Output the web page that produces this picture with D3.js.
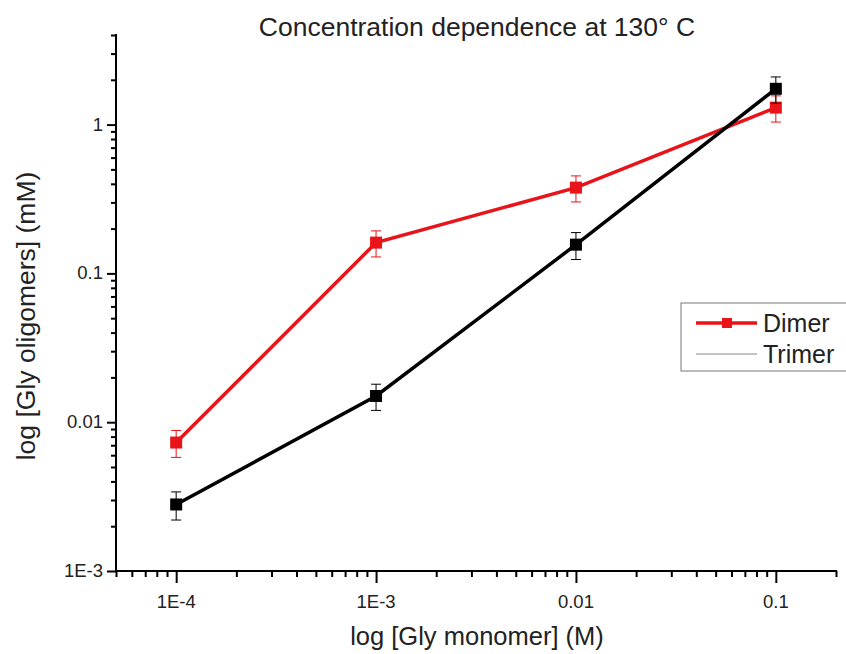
<!DOCTYPE html>
<html>
<head>
<meta charset="utf-8">
<script src="https://cdn.jsdelivr.net/npm/d3@7"></script>
<style>
  body { margin: 0; background: #fff; }
  text { font-family: "Liberation Sans", Arial, sans-serif; }
</style>
</head>
<body>
<svg id="chart" width="846" height="654"></svg>
<script>
// monomer concentration (M)
var monomer = [1e-4, 1e-3, 0.01, 0.1];
// oligomer concentrations (mM)
var dimer = [0.0073, 0.161, 0.377, 1.30];
var dimerErr = [0.0015, 0.032, 0.075, 0.26];
var trimer = [0.0028, 0.0150, 0.156, 1.74];
var trimerErr = [0.0006, 0.003, 0.032, 0.35];
var xTickLabels = ["1E-4", "1E-3", "0.01", "0.1"];
var yTickLabels = ["1E-3", "0.01", "0.1", "1"];

window.onload = function(){
    var svg = d3.select("#chart");

    var x = d3.scaleLog().domain([5e-5, 0.2]).range([116, 836]);
    var y = d3.scaleLog().domain([1e-3, 4]).range([571, 35]);

    // minor tick values for log axes
    function logTicks(lo, hi){
        var out = [];
        for (var e = -6; e <= 2; e++) {
            for (var m = 1; m <= 9; m++) {
                var v = m * Math.pow(10, e);
                if (v >= lo * 0.999 && v <= hi * 1.001) out.push(v);
            }
        }
        return out;
    }
    function isDecade(v){
        var l = Math.log10(v);
        return Math.abs(l - Math.round(l)) < 1e-6;
    }

    var xMajors = [1e-4, 1e-3, 0.01, 0.1];
    var yMajors = [1e-3, 0.01, 0.1, 1];

    // x axis
    var xAxis = svg.append("g").attr("transform", "translate(0,571)")
        .call(d3.axisBottom(x).tickValues(logTicks(5e-5, 0.2)).tickSizeOuter(0)
            .tickSize(6).tickFormat(""));
    xAxis.selectAll(".tick line")
        .attr("y2", function(d){ return isDecade(d) ? 12 : 6; })
        .attr("stroke-width", 2);
    xAxis.select(".domain").attr("stroke-width", 2).attr("d", "M115,0H837");
    svg.append("g").selectAll("text").data(xMajors).enter().append("text")
        .attr("x", function(d){ return x(d); })
        .attr("y", 608)
        .attr("text-anchor", "middle")
        .attr("font-size", 18.5)
        .attr("fill", "#222")
        .text(function(d, i){ return xTickLabels[i]; });

    // y axis
    var yAxis = svg.append("g").attr("transform", "translate(116,0)")
        .call(d3.axisLeft(y).tickValues(logTicks(1e-3, 4)).tickSizeOuter(0)
            .tickSize(5).tickFormat(""));
    yAxis.selectAll(".tick line")
        .attr("x2", function(d){ return isDecade(d) ? -9 : -5; })
        .attr("stroke-width", 2);
    yAxis.select(".domain").attr("stroke-width", 2).attr("d", "M0,34V572");
    svg.append("g").selectAll("text").data(yMajors).enter().append("text")
        .attr("x", 103)
        .attr("y", function(d){ return y(d) + 6; })
        .attr("text-anchor", "end")
        .attr("font-size", 18.5)
        .attr("fill", "#222")
        .text(function(d, i){ return yTickLabels[i]; });

    // title and axis labels
    svg.append("text").attr("x", 477).attr("y", 36).attr("text-anchor", "middle")
        .attr("font-size", 26.5).attr("fill", "#222")
        .text("Concentration dependence at 130° C");
    svg.append("text").attr("x", 477).attr("y", 645).attr("text-anchor", "middle")
        .attr("font-size", 25.5).attr("fill", "#222")
        .text("log [Gly monomer] (M)");
    svg.append("text").attr("transform", "translate(35,316) rotate(-90)")
        .attr("text-anchor", "middle")
        .attr("font-size", 26.5).attr("fill", "#222")
        .text("log [Gly oligomers] (mM)");

    var line = d3.line()
        .x(function(d){ return x(d[0]); })
        .y(function(d){ return y(d[1]); });

    function drawSeries(vals, errs, color){
        var pts = monomer.map(function(m, i){ return [m, vals[i], errs[i]]; });
        var g = svg.append("g");
        g.selectAll("g.err").data(pts).enter().append("path")
            .attr("d", function(d){
                var cx = x(d[0]), y0 = y(d[1] + d[2]), y1 = y(d[1] - d[2]);
                return "M" + (cx - 5) + "," + y0 + "H" + (cx + 5) +
                       "M" + cx + "," + y0 + "V" + y1 +
                       "M" + (cx - 5) + "," + y1 + "H" + (cx + 5);
            })
            .attr("stroke", color).attr("stroke-width", 1).attr("fill", "none");
        g.append("path").datum(pts)
            .attr("d", line)
            .attr("stroke", color).attr("stroke-width", 3.5).attr("fill", "none");
        g.selectAll("rect").data(pts).enter().append("rect")
            .attr("x", function(d){ return x(d[0]) - 6; })
            .attr("y", function(d){ return y(d[1]) - 6; })
            .attr("width", 12).attr("height", 12)
            .attr("fill", color);
    }

    drawSeries(dimer, dimerErr, "#e8141a");
    drawSeries(trimer, trimerErr, "#000");

    // legend
    var lg = svg.append("g");
    lg.append("rect").attr("x", 681).attr("y", 303).attr("width", 200).attr("height", 68)
        .attr("fill", "#fff").attr("stroke", "#777").attr("stroke-width", 1);
    lg.append("line").attr("x1", 696).attr("x2", 757).attr("y1", 323).attr("y2", 323)
        .attr("stroke", "#e8141a").attr("stroke-width", 3.5);
    lg.append("rect").attr("x", 722).attr("y", 318).attr("width", 10).attr("height", 10)
        .attr("fill", "#e8141a");
    lg.append("text").attr("x", 763).attr("y", 332).attr("font-size", 25).attr("fill", "#222")
        .text("Dimer");
    lg.append("line").attr("x1", 696).attr("x2", 757).attr("y1", 354).attr("y2", 354)
        .attr("stroke", "#888").attr("stroke-width", 1.2);
    lg.append("text").attr("x", 763).attr("y", 363).attr("font-size", 25).attr("fill", "#222")
        .text("Trimer");
};
</script>
</body>
</html>
